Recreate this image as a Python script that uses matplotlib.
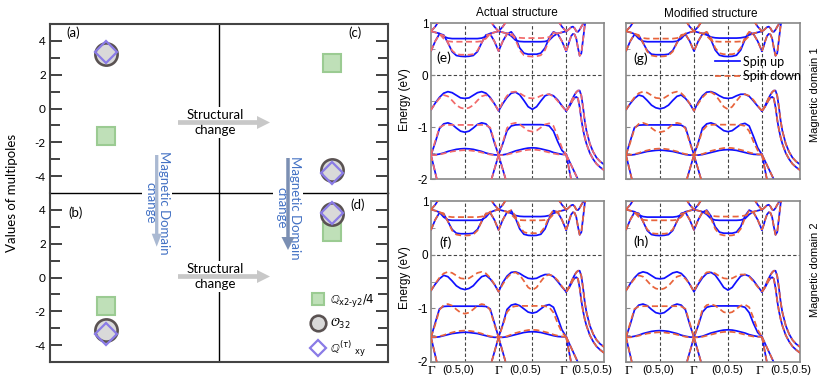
import numpy as np
import matplotlib
matplotlib.use("Agg")
import matplotlib.pyplot as plt
from matplotlib.lines import Line2D
from matplotlib.patches import FancyArrow

plt.rcParams['axes.unicode_minus'] = False

# ---------------- data: multipole values ----------------
top_x = [0.5, 2.5]            # (a), (c)
top_Qx2y2_4 = [-1.65, 2.71]
top_O32 = [3.20, -3.61]
top_Qxy_tau = [3.35, -3.83]

bot_x = [0.5, 2.5]            # (b), (d)
bot_Qx2y2_4 = [-1.70, 2.70]
bot_O32 = [-3.12, 3.73]
bot_Qxy_tau = [-3.36, 3.79]

multipole_labels = ['$\\mathbb{Q}_{\\mathrm{x2\u2010y2}}/4$', r'$\mathcal{O}_{32}$',
                    r'$\mathbb{Q}^{(\tau)}\ _{\mathrm{xy}}$']

# ---------------- data: band structure (eV) ----------------
K = np.arange(0, 4.0001, 0.125)      # k-path samples: Γ-(0.5,0)-Γ-(0,0.5)-Γ
sym_k = [1, 2, 3, 4]

V1_up = [-0.67, -0.54, -0.43, -0.35, -0.32, -0.34, -0.39, -0.44, -0.45, -0.44, -0.39, -0.34, -0.32, -0.35, -0.43, -0.55, -0.69,
         -0.55, -0.43, -0.35, -0.33, -0.38, -0.49, -0.61, -0.66, -0.61, -0.50, -0.40, -0.37, -0.40, -0.48, -0.59, -0.69]
V1_dn = [-0.67, -0.55, -0.45, -0.385, -0.41, -0.49, -0.58, -0.63, -0.65, -0.63, -0.58, -0.49, -0.41, -0.385, -0.45, -0.55, -0.69,
         -0.52, -0.40, -0.33, -0.32, -0.35, -0.40, -0.44, -0.45, -0.44, -0.40, -0.37, -0.37, -0.41, -0.50, -0.60, -0.69]
V2_up = [-1.54, -1.30, -1.03, -0.94, -0.92, -0.95, -1.02, -1.08, -1.10, -1.08, -1.02, -0.95, -0.92, -0.94, -1.03, -1.30, -1.54,
         -1.32, -1.07, -0.98, -0.96, -0.955, -0.955, -0.955, -0.955, -0.955, -0.955, -0.96, -0.98, -1.08, -1.28, -1.45, -1.53]
V2_dn = [-1.54, -1.27, -1.01, -0.965, -0.96, -0.96, -0.96, -0.96, -0.96, -0.96, -0.96, -0.96, -0.96, -0.965, -1.01, -1.27, -1.54,
         -1.30, -1.02, -0.94, -0.92, -0.95, -1.01, -1.07, -1.09, -1.07, -1.01, -0.95, -0.93, -0.98, -1.18, -1.40, -1.53]
V3_up = [-1.54, -1.535, -1.52, -1.50, -1.47, -1.45, -1.43, -1.42, -1.415, -1.42, -1.43, -1.45, -1.47, -1.50, -1.52, -1.535, -1.54,
         -1.535, -1.52, -1.49, -1.46, -1.44, -1.42, -1.405, -1.40, -1.405, -1.42, -1.44, -1.46, -1.49, -1.51, -1.525, -1.53]
V3_dn = [-1.54, -1.54, -1.53, -1.51, -1.49, -1.47, -1.46, -1.45, -1.445, -1.45, -1.46, -1.47, -1.49, -1.51, -1.53, -1.54, -1.54,
         -1.54, -1.53, -1.51, -1.49, -1.47, -1.45, -1.44, -1.435, -1.44, -1.45, -1.47, -1.49, -1.51, -1.525, -1.53, -1.53]
C1_up = [0.46, 0.65, 0.79, 0.77, 0.62, 0.45, 0.375, 0.36, 0.355, 0.36, 0.375, 0.45, 0.62, 0.77, 0.79, 0.65, 0.46,
         0.65, 0.79, 0.83, 0.72, 0.52, 0.42, 0.40, 0.40, 0.40, 0.42, 0.52, 0.72, 0.83, 0.79, 0.65, 0.46]
C1_dn = [0.46, 0.65, 0.78, 0.76, 0.62, 0.47, 0.40, 0.39, 0.39, 0.39, 0.40, 0.47, 0.62, 0.76, 0.78, 0.65, 0.46,
         0.65, 0.79, 0.82, 0.68, 0.48, 0.38, 0.36, 0.355, 0.36, 0.38, 0.48, 0.68, 0.82, 0.79, 0.65, 0.46]
C2_up = [0.84, 0.82, 0.80, 0.74, 0.71, 0.70, 0.70, 0.70, 0.70, 0.70, 0.70, 0.70, 0.71, 0.74, 0.80, 0.82, 0.84,
         0.82, 0.80, 0.75, 0.67, 0.645, 0.64, 0.64, 0.64, 0.64, 0.64, 0.645, 0.67, 0.75, 0.80, 0.82, 0.84]
C2_dn = [0.84, 0.82, 0.79, 0.70, 0.65, 0.64, 0.64, 0.64, 0.64, 0.64, 0.64, 0.64, 0.65, 0.70, 0.79, 0.82, 0.84,
         0.82, 0.80, 0.77, 0.73, 0.715, 0.71, 0.71, 0.71, 0.71, 0.71, 0.715, 0.73, 0.77, 0.80, 0.82, 0.84]
nan = np.nan
C3 = [0.84, 0.93, 1.05, nan, nan, nan, nan, nan, nan, nan, nan, nan, nan, nan, 1.05, 0.93, 0.84,
      0.93, 1.05, nan, nan, nan, nan, nan, nan, nan, nan, nan, nan, nan, 1.05, 0.93, 0.84]

# last segment Γ-(0.5,0.5)
KT = [4.0, 4.05, 4.1, 4.15, 4.2, 4.25, 4.3, 4.35, 4.4, 4.45, 4.5, 4.55, 4.6, 4.7, 4.8, 4.9, 5.0, 5.12]
T1 = [-0.69, -0.64, -0.58, -0.51, -0.44, -0.38, -0.33, -0.30, -0.30, -0.40, -0.62, -0.88, -1.07, -1.32, -1.48, -1.59, -1.66, -1.72]
T2 = [-0.69, -0.65, -0.60, -0.54, -0.48, -0.44, -0.42, -0.45, -0.62, -0.86, -1.05, -1.20, -1.32, -1.50, -1.62, -1.71, -1.77, -1.83]
KL = [4.0, 4.05, 4.1, 4.15, 4.2, 4.25, 4.3, 4.35, 4.4, 4.45, 4.5, 4.55, 4.6]
L1 = [0.46, 0.55, 0.66, 0.75, 0.79, 0.78, 0.70, 0.52, 0.37, 0.42, 0.68, 0.95, 1.10]
L2 = [0.84, 0.86, 0.89, 0.92, 0.93, 0.90, 0.84, 0.83, 0.87, 0.93, 0.98, 1.03, 1.08]

# steep bands crossing at Γ below -1.5 eV
steep_k = [[0.0, 0.19], [2.0, 1.77], [2.0, 2.23], [4.0, 4.16], [4.0, 4.38]]
steep_E = [[-1.54, -2.05], [-1.54, -2.05], [-1.54, -2.05], [-1.53, -2.05], [-1.53, -2.05]]

bands_A_up = [V1_up, V2_up, V3_up, C1_up, C2_up, C3]
bands_A_dn = [V1_dn, V2_dn, V3_dn, C1_dn, C2_dn, C3]

xlabels = ['Γ', '(0.5,0)', 'Γ', '(0,0.5)', 'Γ', '(0.5,0.5)']
xlabel_pos_f = [0.0, 0.79, 1.99, 2.78, 3.93, 4.77]
xlabel_pos_h = [0.08, 0.96, 1.98, 2.99, 3.94, 4.85]

# ---------------- figure ----------------
W, H = 830, 385
fig = plt.figure(figsize=(8.3, 3.85), dpi=100)


def rect(x0, y0, x1, y1):
    return [x0 / W, 1 - y1 / H, (x1 - x0) / W, (y1 - y0) / H]


SANS_L = ['Lato', 'DejaVu Sans']
SANS_R = ['Liberation Sans', 'DejaVu Sans']

ax_top = fig.add_axes(rect(50, 24, 388, 193))
ax_bot = fig.add_axes(rect(50, 193, 388, 362))
for ax in (ax_top, ax_bot):
    ax.set_xlim(0, 3)
    ax.set_ylim(-5, 5)
    ax.set_xticks([])
    ax.set_yticks([-4, -2, 0, 2, 4])
    ax.set_yticks([-3, -1, 1, 3], minor=True)
    ax.tick_params(axis='y', which='both', direction='in', left=True, right=True,
                   width=1.3, color='#333333', labelsize=8.5, pad=3)
    ax.tick_params(axis='y', which='major', length=8.5)
    ax.tick_params(axis='y', which='minor', length=7)
    for lab in ax.get_yticklabels():
        lab.set_fontfamily(SANS_L)
    for s in ax.spines.values():
        s.set_linewidth(1.5)
        s.set_color('#444444')
    ax.axvline(1.5, color='black', lw=1, zorder=1)
ax_top.spines['bottom'].set_visible(False)
ax_bot.spines['top'].set_visible(False)
ax_bot.axhline(5, color='black', lw=1, clip_on=False, zorder=1)

sq_style = dict(ls='none', marker='s', ms=13, mfc='#bfe0b8', mec='#9bcb92', mew=1.5)
ci_style = dict(ls='none', marker='o', ms=16, mfc='#d9d9d9', mec='#5a5252', mew=1.9)
di_style = dict(ls='none', marker='D', ms=11, mfc='none', mec='#8a7be6', mew=1.6)

for ax, xs, q, o, d in ((ax_top, top_x, top_Qx2y2_4, top_O32, top_Qxy_tau),
                        (ax_bot, bot_x, bot_Qx2y2_4, bot_O32, bot_Qxy_tau)):
    ax.plot(xs, q, zorder=3, **sq_style)
    ax.plot(xs, o, zorder=4, **ci_style)
    ax.plot(xs, d, zorder=5, **di_style)

handles = [Line2D([], [], **sq_style), Line2D([], [], **ci_style),
           Line2D([], [], **dict(di_style, mfc='white'))]
ax_bot.legend(handles, multipole_labels, loc='upper left', bbox_to_anchor=(0.772, 0.415),
              frameon=False, markerscale=0.7, fontsize=8.5, handletextpad=0.4,
              labelspacing=0.62, borderpad=0, borderaxespad=0, handlelength=1.2)

# ---------------- band panels ----------------
BLUE = '#1010ff'


def band_panel(pos, up, dn, red, show_ylabels, xpos=None):
    ax = fig.add_axes(pos)
    ax.set_xlim(0, 5.12)
    ax.set_ylim(-2, 1)
    for xv in sym_k:
        ax.axvline(xv, color='#444444', lw=0.8, dashes=(3, 2), zorder=1)
    ax.axhline(0, color='#444444', lw=0.8, dashes=(3, 2), zorder=1)
    for spin, bands, col in (('up', up, BLUE), ('dn', dn, red)):
        kw = dict(color=col, lw=1.25, zorder=2 if spin == 'up' else 3)
        if spin == 'dn':
            kw['dashes'] = (3.5, 2)
        for b in bands:
            ax.plot(K, b, **kw)
        ax.plot(KT, T1, **kw)
        ax.plot(KT, T2, **kw)
        ax.plot(KL, L1, **kw)
        ax.plot(KL, L2, **kw)
        for sk, se in zip(steep_k, steep_E):
            ax.plot(sk, se, **kw)
    ax.set_yticks([-2, -1, 0, 1])
    ax.set_yticks([-1.5, -0.5, 0.5], minor=True)
    ax.tick_params(axis='y', which='both', direction='in', length=3, color='#888888',
                   labelsize=8.5, labelleft=show_ylabels, pad=2)
    for lab in ax.get_yticklabels():
        lab.set_fontfamily(SANS_R)
    if xpos is None:
        ax.set_xticks([])
    else:
        ax.set_xticks(xpos, xlabels)
        ax.tick_params(axis='x', length=0, pad=2, labelsize=8)
        for lab in ax.get_xticklabels():
            if lab.get_text() == 'Γ':
                lab.set_fontfamily(['Liberation Serif', 'DejaVu Serif'])
                lab.set_fontsize(9.5)
            else:
                lab.set_fontfamily(SANS_R)
    for s in ax.spines.values():
        s.set_color('#888888')
        s.set_linewidth(1.2)
    return ax


RED_E = '#f26a6a'
RED_O = '#e8643c'
ax_e = band_panel(rect(431, 23, 604, 179), bands_A_up, bands_A_dn, RED_E, True)
ax_f = band_panel(rect(431, 201, 604, 362), bands_A_dn, bands_A_up, RED_O, True, xlabel_pos_f)
ax_g = band_panel(rect(626, 23, 800, 179), bands_A_dn, bands_A_up, RED_O, False)
ax_h = band_panel(rect(626, 201, 800, 362), bands_A_up, bands_A_dn, RED_O, False, xlabel_pos_h)

spin_handles = [Line2D([], [], color=BLUE, lw=1.25), Line2D([], [], color=RED_O, lw=1.25, dashes=(3.5, 2))]
leg = ax_g.legend(spin_handles, ['Spin up', 'Spin down'], loc='upper left',
                  bbox_to_anchor=(0.51, 0.79), frameon=False,
                  handlelength=2.0, handletextpad=0.3, labelspacing=0.2,
                  borderpad=0, borderaxespad=0, prop={'family': SANS_L, 'size': 9})

# ---------------- overlay annotations (pixel space) ----------------
ov = fig.add_axes([0, 0, 1, 1], zorder=10)
ov.set_xlim(0, W)
ov.set_ylim(H, 0)
ov.axis('off')

wb = dict(fc='white', ec='none', pad=1.5)
for yc in (122.5, 276.5):
    ov.text(215, yc, 'Structural\nchange', ha='center', va='center', fontsize=9.5,
            family=SANS_L, linespacing=1.25, bbox=wb, zorder=2)
    ov.add_patch(FancyArrow(178, yc, 92, 0, width=4.7, head_width=13, head_length=13,
                            length_includes_head=True, color='#c8c8c8', lw=0, zorder=3))

ov.text(157, 203, 'Magnetic Domain\nchange', rotation=270, ha='center', va='center',
        multialignment='center', color='#4472c4', fontsize=9.5, family=SANS_L,
        linespacing=1.2, bbox=wb, zorder=2)
ov.add_patch(FancyArrow(156.7, 155, 0, 91.7, width=3.3, head_width=10, head_length=13,
                        length_includes_head=True, color='#aab9d2', lw=0, zorder=3))
ov.text(288, 208, 'Magnetic Domain\nchange', rotation=270, ha='center', va='center',
        multialignment='center', color='#4472c4', fontsize=9.5, family=SANS_L,
        linespacing=1.2, bbox=wb, zorder=2)
ov.add_patch(FancyArrow(288, 158, 0, 92, width=3.5, head_width=13, head_length=13,
                        length_includes_head=True, color='#7b8fb3', lw=0, zorder=3))

for txt, x, y in (('(a)', 73, 33), ('(c)', 355, 33), ('(b)', 76, 213), ('(d)', 358, 205),
                  ('(e)', 444, 58), ('(f)', 446, 243), ('(g)', 641, 59), ('(h)', 641, 242)):
    ov.text(x, y, txt, ha='center', va='center', fontsize=10 if txt in '(e)(f)(g)(h)' else 9.5,
            family=SANS_L)

ov.text(12, 193, 'Values of multipoles', rotation=90, ha='center', va='center',
        fontsize=9.5, family=SANS_L)
ov.text(405, 100, 'Energy (eV)', rotation=90, ha='center', va='center', fontsize=8.5, family=SANS_R)
ov.text(405, 278, 'Energy (eV)', rotation=90, ha='center', va='center', fontsize=8.5, family=SANS_R)
ov.text(517, 13, 'Actual structure', ha='center', va='center', fontsize=8.5, family=SANS_R)
ov.text(711, 14, 'Modified structure', ha='center', va='center', fontsize=8.5, family=SANS_R)
ov.text(815, 95, 'Magnetic domain 1', rotation=90, ha='center', va='center', fontsize=8, family=SANS_R)
ov.text(815, 270, 'Magnetic domain 2', rotation=90, ha='center', va='center', fontsize=8, family=SANS_R)

fig.savefig('out.png', dpi=100)
